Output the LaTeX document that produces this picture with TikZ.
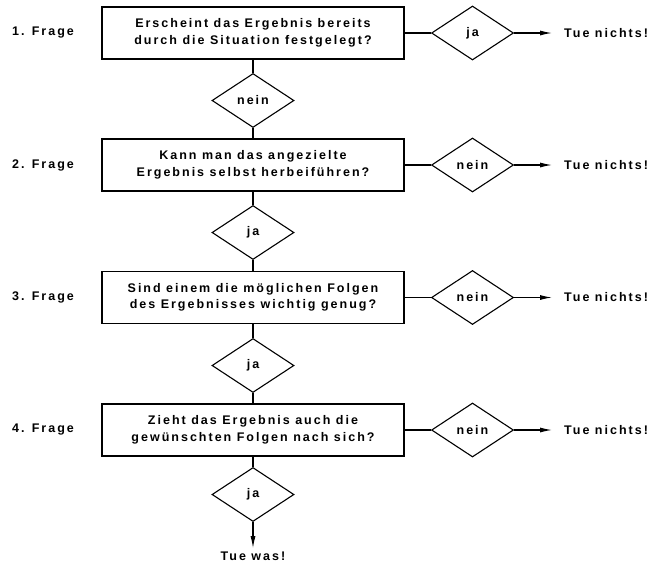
\documentclass[tikz,border=0pt]{standalone}
\usepackage{fontspec}
\setmainfont{Liberation Sans}[LetterSpace=16]
\usetikzlibrary{shapes.geometric,arrows.meta}

\tikzset{
  frage/.style={draw, line width=1.1pt, minimum width=302pt, minimum height=52pt,
    align=center, inner sep=2pt},
  raute/.style={draw, diamond, line width=1.1pt, minimum width=82pt,
    minimum height=54pt, inner sep=0pt},
  pfeil/.style={line width=1.1pt, -{Latex[length=12pt,width=5pt]}},
  linie/.style={line width=1.1pt},
  nichts/.style={anchor=west, inner xsep=12pt},
}

\begin{document}
\begin{tikzpicture}[x=1pt,y=-1pt,font=\bfseries\fontsize{12.5}{16.5}\selectfont]
          \useasboundingbox (0,0) rectangle (655,563);

          % Fragen
          \node[frage] (f1) at (253,33) {Erscheint das Ergebnis bereits\\durch die Situation festgelegt?};
          \node[frage] (f2) at (253,165) {Kann man das angezielte\\Ergebnis selbst herbeiführen?};
          \node[frage] (f3) at (253,297.5) {Sind einem die möglichen Folgen\\des Ergebnisses wichtig genug?};
          \node[frage] (f4) at (253,430) {Zieht das Ergebnis auch die\\gewünschten Folgen nach sich?};

          \node (n1) at (43,33) {1. Frage};
          \node (n2) at (43,165) {2. Frage};
          \node (n3) at (43,297.5) {3. Frage};
          \node (n4) at (43,430) {4. Frage};

          % Rauten nach unten
          \node[raute] (u1) at (253,100.5) {nein};
          \node[raute] (u2) at (253,232.5) {ja};
          \node[raute] (u3) at (253,365.5) {ja};
          \node[raute] (u4) at (253,494.5) {ja};

          % Rauten nach rechts
          \node[raute] (r1) at (472.5,33) {ja};
          \node[raute] (r2) at (472.5,165) {nein};
          \node[raute] (r3) at (472.5,297.5) {nein};
          \node[raute] (r4) at (472.5,430) {nein};

          \node[nichts] (t1) at (552,33) {Tue nichts!};
          \node[nichts] (t2) at (552,165) {Tue nichts!};
          \node[nichts] (t3) at (552,297.5) {Tue nichts!};
          \node[nichts] (t4) at (552,430) {Tue nichts!};
          \node (tw) at (253,556) {Tue was!};

          \draw[linie] (f1) -- (u1) ; 
          \draw[linie] (u1) -- (f2) ; 
          \draw[linie] (f2) -- (u2) ; 
          \draw[linie] (u2) -- (f3) ; 
          \draw[linie] (f3) -- (u3) ; 
          \draw[linie] (u3) -- (f4) ; 
          \draw[linie] (f4) -- (u4) ; 
          \draw[pfeil] (u4) -- (tw.north) ; 
          \draw[linie] (f1) -- (r1) ; 
          \draw[linie] (f2) -- (r2) ; 
          \draw[linie] (f3) -- (r3) ; 
          \draw[linie] (f4) -- (r4) ; 
          \draw[pfeil] (r1) -- (t1.west) ; 
          \draw[pfeil] (r2) -- (t2.west) ; 
          \draw[pfeil] (r3) -- (t3.west) ; 
          \draw[pfeil] (r4) -- (t4.west) ; 
      \end{tikzpicture}
\end{document}
